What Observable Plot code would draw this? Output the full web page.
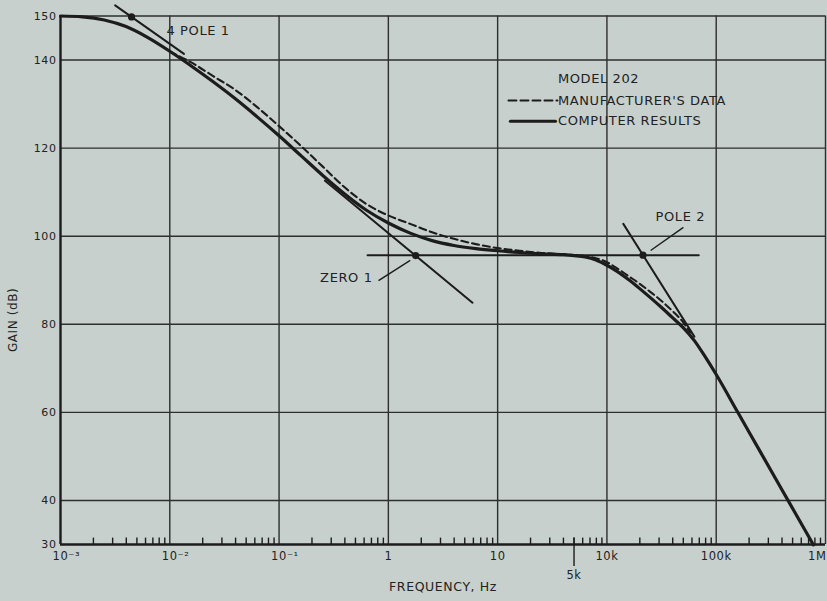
<!DOCTYPE html>
<html>
<head>
<meta charset="utf-8">
<script src="https://cdn.jsdelivr.net/npm/d3@7"></script>
<script src="https://cdn.jsdelivr.net/npm/@observablehq/plot@0.6"></script>
<style>
  html, body { margin: 0; padding: 0; background: #c7d0cd; }
  #chart svg text { letter-spacing: 0.6px; }
</style>
</head>
<body>
<div id="chart"></div>
<script>
// x positions are decade indices on the printed log axis (0 = 10^-3 ... 7 = 1M)
const decadeLabels = ["10⁻³", "10⁻²", "10⁻¹", "1", "10", "10k", "100k", "1M"];
const gainTicks = [30, 40, 60, 80, 100, 120, 140, 150];
const gainGrid = [40, 60, 80, 100, 120, 140, 150];
const extraTickLabel = "5k";

// Computer results (solid)
const computerPos = [0, 0.2, 0.4, 0.6, 0.8, 1.0, 1.2, 1.4, 1.6, 1.8, 2.0, 2.2, 2.4, 2.6, 2.8, 3.0, 3.2, 3.4, 3.6, 3.8, 4.0, 4.2, 4.4, 4.6, 4.7, 4.8, 4.9, 5.0, 5.1, 5.2, 5.3, 5.4, 5.5, 5.6, 5.7, 5.8, 5.9, 6.0, 6.2, 6.4, 6.6, 6.8, 6.89];
const computerGain = [150, 149.8, 149.1, 147.6, 145.1, 142.0, 138.6, 135.0, 131.2, 127.1, 122.8, 118.3, 113.8, 109.6, 105.9, 103.0, 100.7, 99.0, 97.9, 97.2, 96.7, 96.3, 96.0, 95.8, 95.6, 95.3, 94.6, 93.4, 91.9, 90.1, 88.1, 86.0, 83.8, 81.5, 79.2, 76.3, 72.6, 68.6, 59.9, 51.2, 42.5, 33.8, 29.9];

// Manufacturer's data (dashed)
const manufPos = [1.0, 1.2, 1.4, 1.6, 1.8, 2.0, 2.2, 2.4, 2.6, 2.8, 3.0, 3.2, 3.4, 3.6, 3.8, 4.0, 4.2, 4.4, 4.6, 4.8, 4.9, 5.0, 5.1, 5.2, 5.3, 5.4, 5.5, 5.6, 5.7, 5.76];
const manufGain = [141.9, 139.4, 136.3, 133.2, 129.3, 125.0, 120.5, 115.8, 111.1, 107.3, 104.7, 102.8, 100.9, 99.4, 98.2, 97.3, 96.7, 96.2, 95.9, 95.5, 95.0, 94.1, 92.6, 90.9, 89.2, 87.3, 85.3, 83.0, 80.4, 78.2];

// Asymptotes
const pole1Pos = [0.50, 1.13], pole1Gain = [152.4, 141.4];
const zero1Pos = [2.42, 3.77], zero1Gain = [112.6, 84.9];
const flatPos = [2.81, 5.84], flatGain = [95.7, 95.7];
const pole2Pos = [5.15, 5.80], pole2Gain = [102.8, 77.2];

// Break points
const breakPos = [0.65, 3.25, 5.33];
const breakGain = [149.8, 95.6, 95.7];

// Annotations
const annoText = ["4 POLE 1", "ZERO 1", "POLE 2"];
const annoPos = [0.97, 2.855, 5.672];
const annoGain = [146.7, 90.6, 104.3];
const leaderPos1 = [2.91, 5.40], leaderGain1 = [89.9, 96.75];
const leaderPos2 = [3.20, 5.70], leaderGain2 = [94.5, 102.0];

const legendTitle = "MODEL 202";
const legendLabels = ["MANUFACTURER'S DATA", "COMPUTER RESULTS"];

const toRows = (xs, ys) => xs.map((x, i) => ({x, y: ys[i]}));
const computer = toRows(computerPos, computerGain);
const manuf = toRows(manufPos, manufGain);
const asymptotes = [
  toRows(pole1Pos, pole1Gain), toRows(zero1Pos, zero1Gain),
  toRows(flatPos, flatGain), toRows(pole2Pos, pole2Gain)
];
const dots = toRows(breakPos, breakGain);
const annos = annoText.map((t, i) => ({t, x: annoPos[i], y: annoGain[i]}));
const leaders = leaderPos1.map((x1, i) => ({x1, y1: leaderGain1[i], x2: leaderPos2[i], y2: leaderGain2[i]}));
const decades = decadeLabels.map((l, i) => ({i, l}));
const minor = [];
for (let d = 0; d < 7; d++) for (let k = 2; k <= 9; k++) minor.push(d + Math.log10(k));
const fiveK = [{x: 4 + Math.log10(5), l: extraTickLabel}];

const ink = "#1c1c1c";
const grid = "#2e2e2e";

const chart = Plot.plot({
  width: 827,
  height: 601,
  marginLeft: 60,
  marginRight: 2,
  marginTop: 15.5,
  marginBottom: 57,
  x: {domain: [0, 7], axis: null},
  y: {domain: [30, 150], axis: null},
  style: {background: "#c7d0cd", fontFamily: "DejaVu Sans", color: "#222", overflow: "visible"},
  marks: [
    Plot.ruleY(gainGrid, {y: d => d, stroke: grid, strokeWidth: 1.4}),
    Plot.ruleX(decades.slice(1), {x: "i", stroke: grid, strokeWidth: 1.4}),
    Plot.ruleY([30], {stroke: ink, strokeWidth: 2.4}),
    Plot.ruleX([0], {stroke: ink, strokeWidth: 2.4}),
    Plot.ruleX(minor, {x: d => d, y1: 30, y2: 31.45, stroke: ink, strokeWidth: 1.4}),
    Plot.ruleX(fiveK, {x: "x", y1: 31.45, y2: 25.0, stroke: ink, strokeWidth: 1.4}),
    // y tick labels
    Plot.text(gainTicks, {x: 0, y: d => d, text: d => String(d), textAnchor: "end", dx: -4, fontSize: 11, fill: "#222"}),
    // x tick labels
    Plot.text(decades.slice(0, 3), {x: "i", text: "l", frameAnchor: "bottom", textAnchor: "start", dx: -8, dy: 15, fontSize: 11.5, fill: "#222"}),
    Plot.text(decades.slice(3, 7), {x: "i", text: "l", frameAnchor: "bottom", dy: 15, fontSize: 11.5, fill: "#222"}),
    Plot.text(decades.slice(7), {x: "i", text: "l", frameAnchor: "bottom", textAnchor: "end", dx: 1, dy: 15, fontSize: 11.5, fill: "#222"}),
    Plot.text(fiveK, {x: "x", text: "l", frameAnchor: "bottom", dy: 34, fontSize: 11.5, fill: "#222"}),
    Plot.text(["FREQUENCY, Hz"], {x: 3.5, frameAnchor: "bottom", dy: 46, fontSize: 12.5, fill: "#222"}),
    Plot.text(["GAIN (dB)"], {x: -0.43, y: 81, rotate: -90, fontSize: 12, fill: "#222"}),
    // asymptotes
    ...asymptotes.map(a => Plot.line(a, {x: "x", y: "y", stroke: ink, strokeWidth: 2})),
    // data curves
    Plot.line(manuf, {x: "x", y: "y", stroke: ink, strokeWidth: 2.1, strokeDasharray: "7,4", curve: "monotone-x"}),
    Plot.line(computer, {x: "x", y: "y", stroke: ink, strokeWidth: 3.2, curve: "monotone-x"}),
    Plot.dot(dots, {x: "x", y: "y", r: 3.6, fill: ink, stroke: "none"}),
    Plot.link(leaders, {x1: "x1", y1: "y1", x2: "x2", y2: "y2", stroke: ink, strokeWidth: 1.4}),
    // annotations
    Plot.text(annos.slice(0, 1), {x: "x", y: "y", text: "t", textAnchor: "start", fontSize: 13, fill: "#222"}),
    Plot.text(annos.slice(1, 2), {x: "x", y: "y", text: "t", textAnchor: "end", fontSize: 13, fill: "#222"}),
    Plot.text(annos.slice(2), {x: "x", y: "y", text: "t", fontSize: 13, fill: "#222"}),
    // legend
    Plot.text([legendTitle], {x: 4.552, y: 135.8, textAnchor: "start", fontSize: 13, fill: "#222"}),
    Plot.line([{x: 4.099, y: 130.8}, {x: 4.547, y: 130.8}], {x: "x", y: "y", stroke: ink, strokeWidth: 2, strokeDasharray: "8,4"}),
    Plot.text([legendLabels[0]], {x: 4.552, y: 130.8, textAnchor: "start", fontSize: 13, fill: "#222"}),
    Plot.line([{x: 4.117, y: 126.1}, {x: 4.529, y: 126.1}], {x: "x", y: "y", stroke: ink, strokeWidth: 3.2}),
    Plot.text([legendLabels[1]], {x: 4.552, y: 126.1, textAnchor: "start", fontSize: 13, fill: "#222"})
  ]
});
document.getElementById("chart").appendChild(chart);
</script>
</body>
</html>
